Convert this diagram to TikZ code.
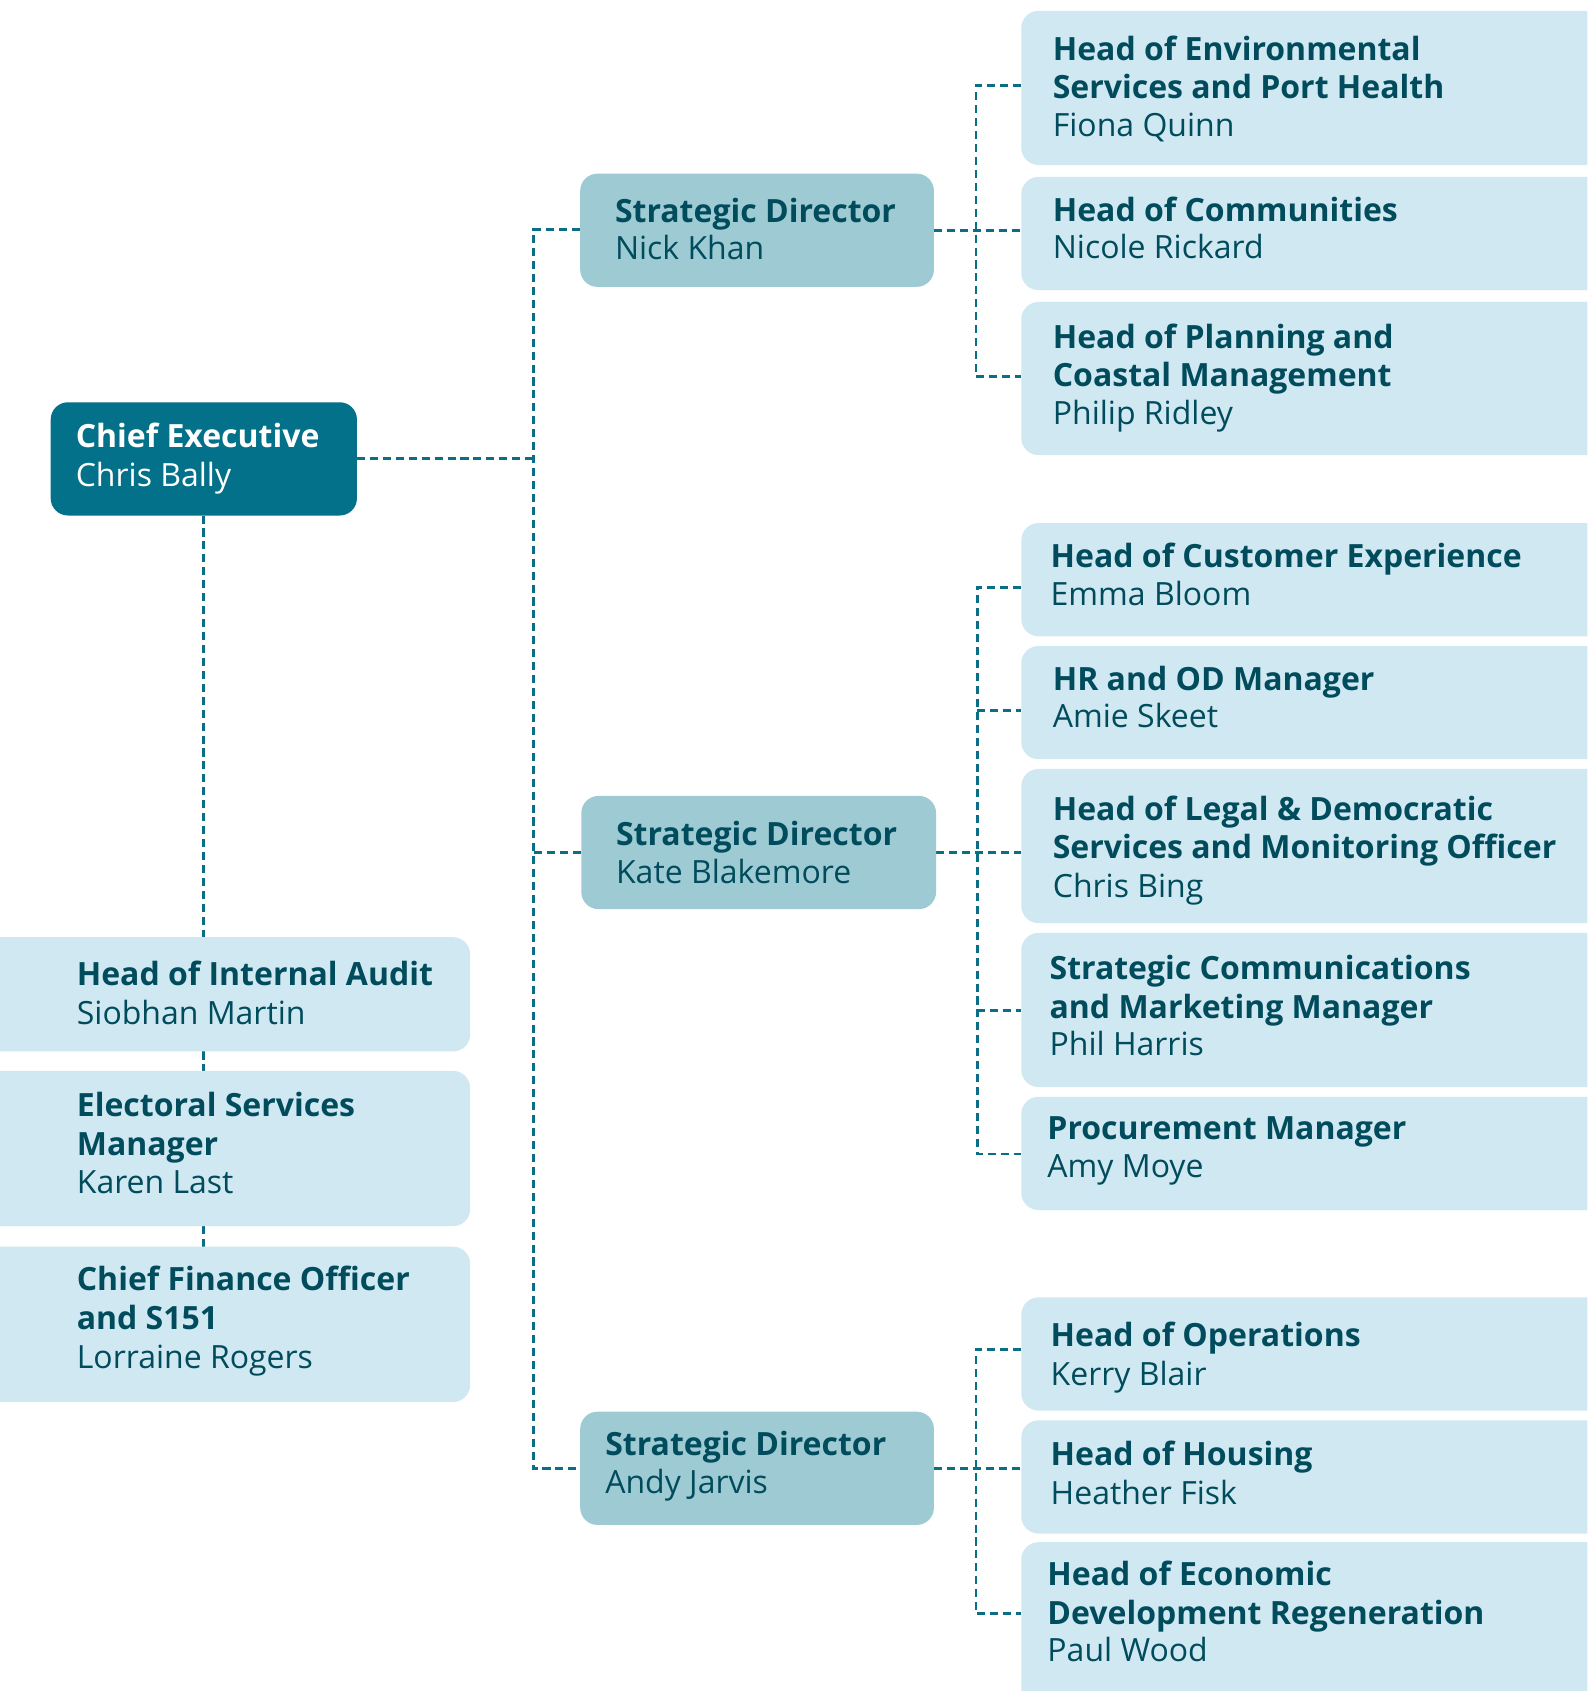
\documentclass[tikz,border=0pt]{standalone}
\usepackage{fontspec}
\setmainfont{Open Sans}
\definecolor{darkbox}{RGB}{3,113,138}
\definecolor{midbox}{RGB}{158,203,211}
\definecolor{lightbox}{RGB}{208,232,241}
\definecolor{ink}{RGB}{0,76,92}
\definecolor{conncol}{RGB}{10,111,134}
\pgfdeclarelayer{bg}
\pgfsetlayers{bg,main}
\newcommand\mkbox[6]{%
  \node[#2, anchor=north west, minimum width={(#5-#3)*0.75pt}, minimum height={(#6-#4)*0.75pt}] (#1) at (#3,#4) {};}
\newcommand\tline[5]{\node[#2, anchor=base west] (#1) at (#3,#4) {#5};}
\tikzset{
  boxbase/.style={rectangle, rounded corners=12pt, inner sep=0pt, outer sep=0pt},
  darkb/.style={boxbase, fill=darkbox},
  midb/.style={boxbase, fill=midbox},
  lightb/.style={boxbase, fill=lightbox},
  ttl/.style={font=\fontsize{22.25}{26}\selectfont\bfseries, text=ink, inner sep=0pt},
  nm/.style={font=\fontsize{22.25}{26}\selectfont, text=ink, inner sep=0pt},
  wttl/.style={ttl, text=white},
  wnm/.style={nm, text=white},
  conn/.style={draw=conncol, line width=2pt, dash pattern=on 5.6pt off 3.4pt}
}
\begin{document}
\begin{tikzpicture}[x=0.75pt, y=-0.75pt]
\useasboundingbox (0,0) rectangle (1472,1568);
\begin{pgfonlayer}{bg}
\fill[white] (0,0) rectangle (1472,1568);
\end{pgfonlayer}
\clip (0,0) rectangle (1472,1568);
% boxes
\mkbox{ce}{darkb}{47}{373}{331}{478}
\mkbox{nick}{midb}{538}{161}{866}{266}
\mkbox{kate}{midb}{539}{738}{868}{843}
\mkbox{andy}{midb}{538}{1309}{866}{1414}
\mkbox{audit}{lightb}{-30}{869}{436}{975}
\mkbox{elect}{lightb}{-30}{993}{436}{1137}
\mkbox{cfo}{lightb}{-30}{1156}{436}{1300}
\mkbox{env}{lightb}{947}{10}{1500}{153}
\mkbox{comm}{lightb}{947}{164}{1500}{269}
\mkbox{plan}{lightb}{947}{280}{1500}{422}
\mkbox{cust}{lightb}{947}{485}{1500}{590}
\mkbox{hr}{lightb}{947}{599}{1500}{704}
\mkbox{legal}{lightb}{947}{713}{1500}{856}
\mkbox{comms}{lightb}{947}{865}{1500}{1008}
\mkbox{proc}{lightb}{947}{1017}{1500}{1122}
\mkbox{ops}{lightb}{947}{1203}{1500}{1308}
\mkbox{hous}{lightb}{947}{1317}{1500}{1422}
\mkbox{econ}{lightb}{947}{1430}{1500}{1600}
% texts
\tline{ceA}{wttl}{70}{415}{Chief Executive}
\tline{ceB}{wnm}{70}{451}{Chris Bally}
\tline{nickA}{ttl}{570}{206}{Strategic Director}
\tline{nickB}{nm}{570}{241}{Nick Khan}
\tline{kateA}{ttl}{571}{784}{Strategic Director}
\tline{kateB}{nm}{571}{819}{Kate Blakemore}
\tline{andyA}{ttl}{561}{1350}{Strategic Director}
\tline{andyB}{nm}{561}{1385}{Andy Jarvis}
\tline{auditA}{ttl}{71}{914}{Head of Internal Audit}
\tline{auditB}{nm}{71}{950}{Siobhan Martin}
\tline{electA}{ttl}{71}{1035}{Electoral Services}
\tline{electB}{ttl}{71}{1071}{Manager}
\tline{electC}{nm}{71}{1107}{Karen Last}
\tline{cfoA}{ttl}{71}{1197}{Chief Finance Officer}
\tline{cfoB}{ttl}{71}{1233}{and S151}
\tline{cfoC}{nm}{71}{1269}{Lorraine Rogers}
\tline{envA}{ttl}{976}{56}{Head of Environmental}
\tline{envB}{ttl}{976}{91}{Services and Port Health}
\tline{envC}{nm}{976}{127}{Fiona Quinn}
\tline{commA}{ttl}{976}{205}{Head of Communities}
\tline{commB}{nm}{976}{240}{Nicole Rickard}
\tline{planA}{ttl}{976}{323}{Head of Planning and}
\tline{planB}{ttl}{976}{358}{Coastal Management}
\tline{planC}{nm}{976}{394}{Philip Ridley}
\tline{custA}{ttl}{974}{526}{Head of Customer Experience}
\tline{custB}{nm}{974}{561}{Emma Bloom}
\tline{hrA}{ttl}{976}{640}{HR and OD Manager}
\tline{hrB}{nm}{976}{675}{Amie Skeet}
\tline{legalA}{ttl}{976}{761}{Head of Legal \& Democratic}
\tline{legalB}{ttl}{976}{796}{Services and Monitoring Officer}
\tline{legalC}{nm}{976}{832}{Chris Bing}
\tline{commsA}{ttl}{973}{908}{Strategic Communications}
\tline{commsB}{ttl}{973}{944}{and Marketing Manager}
\tline{commsC}{nm}{973}{979}{Phil Harris}
\tline{procA}{ttl}{971}{1057}{Procurement Manager}
\tline{procB}{nm}{971}{1092}{Amy Moye}
\tline{opsA}{ttl}{974}{1249}{Head of Operations}
\tline{opsB}{nm}{974}{1285}{Kerry Blair}
\tline{housA}{ttl}{974}{1359}{Head of Housing}
\tline{housB}{nm}{974}{1395}{Heather Fisk}
\tline{econA}{ttl}{971}{1470}{Head of Economic}
\tline{econB}{ttl}{971}{1506}{Development Regeneration}
\tline{econC}{nm}{971}{1541}{Paul Wood}
% junction coordinates
\coordinate (sTop) at (495,213);
\coordinate (sBot) at (495,1362);
\coordinate (jEnv) at (905,79.5);
\coordinate (jPlan) at (905,349.4);
\coordinate (jCust) at (906,545);
\coordinate (jHr) at (906,659);
\coordinate (jComms) at (906,937);
\coordinate (jProc) at (906,1070);
\coordinate (jOps) at (905,1251.6);
\coordinate (jEcon) at (905,1496.5);
\begin{pgfonlayer}{bg}
% main spine
\draw[conn] (sTop -| nick.west) -- (sTop) -- (sBot) -- (sBot -| andy.west);
\draw[conn] (ce.east) -- (ce.east -| sTop);
\draw[conn] (kate.west -| sTop) -- (kate.west);
% left column
\draw[conn] (ce.south) -- (audit.north -| ce.south);
\draw[conn] (audit.south -| ce.south) -- (elect.north -| ce.south);
\draw[conn] (elect.south -| ce.south) -- (cfo.north -| ce.south);
% group 1
\draw[conn] (jEnv -| env.west) -- (jEnv) -- (jPlan) -- (jPlan -| plan.west);
\draw[conn] (nick.east) -- (nick.east -| comm.west);
% group 2
\draw[conn] (jCust -| cust.west) -- (jCust) -- (jProc) -- (jProc -| proc.west);
\draw[conn] (jHr) -- (jHr -| hr.west);
\draw[conn] (kate.east) -- (kate.east -| legal.west);
\draw[conn] (jComms) -- (jComms -| comms.west);
% group 3
\draw[conn] (jOps -| ops.west) -- (jOps) -- (jEcon) -- (jEcon -| econ.west);
\draw[conn] (andy.east) -- (andy.east -| hous.west);
\end{pgfonlayer}
\end{tikzpicture}
\end{document}
